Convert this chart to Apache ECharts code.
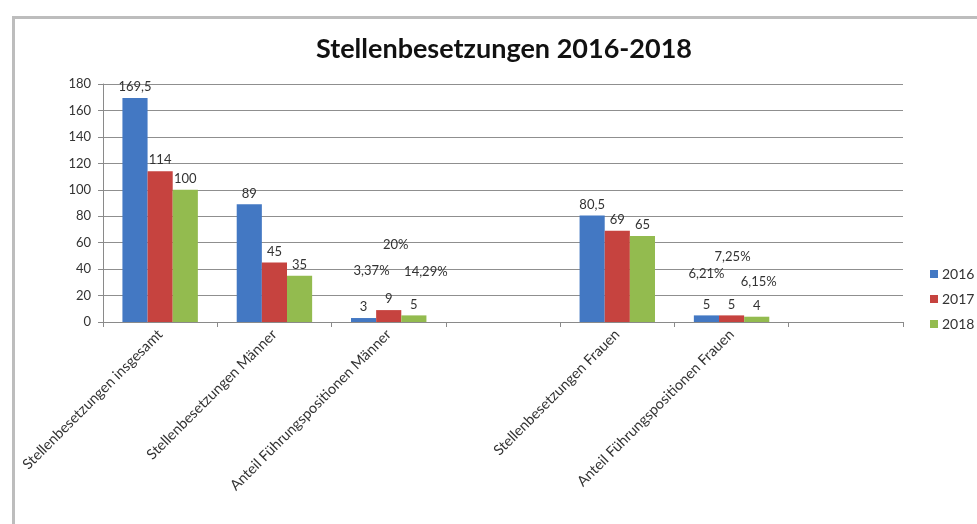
<!DOCTYPE html>
<html>
<head>
<meta charset="utf-8">
<script src="https://cdn.jsdelivr.net/npm/echarts@6/dist/echarts.min.js"></script>
<style>
  html, body { margin: 0; padding: 0; background: #fff; }
  #chart { width: 977px; height: 524px; }
</style>
</head>
<body>
<div id="chart"></div>
<script>
// Job placements by year, split into totals, men and women
const categories = [
  'Stellenbesetzungen insgesamt',
  'Stellenbesetzungen Männer',
  'Anteil Führungspositionen Männer',
  '',
  'Stellenbesetzungen Frauen',
  'Anteil Führungspositionen Frauen',
  ''
];
const years = ['2016', '2017', '2018'];
const values2016 = [169.5, 89, 3, null, 80.5, 5, null];
const values2017 = [114, 45, 9, null, 69, 5, null];
const values2018 = [100, 35, 5, null, 65, 4, null];
// share of leadership positions, shown above the leadership bars
const share2016 = [null, null, '3,37%', null, null, '6,21%', null];
const share2017 = [null, null, '20%', null, null, '7,25%', null];
const share2018 = [null, null, '14,29%', null, null, '6,15%', null];
const yTicks = { min: 0, max: 180, step: 20 };

// label placement for the share texts: [vertical gap, horizontal shift]
const shareLayout = [
  { 2: [58, 8], 5: [48, 0] },
  { 2: [94, 7], 5: [82, 1] },
  { 2: [52, 12], 5: [34, 2] }
];

const colors = ['#4378c3', '#c6433f', '#93bb4f'];
const textColor = '#333333';
const font = 'Lato, "Open Sans", sans-serif';
const labelSize = 13;

function fmt(v) {
  return String(v).replace('.', ',');
}

function buildData(values, shares, layout) {
  return values.map((v, i) => {
    if (v == null) return null;
    if (!shares[i]) return { value: v };
    const [gap, dx] = layout[i];
    return {
      value: v,
      label: {
        formatter: '{p|' + shares[i] + '}\n{v|' + fmt(v) + '}',
        rich: {
          p: { fontSize: labelSize, fontFamily: font, color: textColor, lineHeight: gap, padding: [0, 0, 0, dx * 2] },
          v: { fontSize: labelSize, fontFamily: font, color: textColor, lineHeight: 14 }
        }
      }
    };
  });
}

const seriesValues = [values2016, values2017, values2018];
const seriesShares = [share2016, share2017, share2018];

const chart = echarts.init(document.getElementById('chart'), null, { renderer: 'canvas' });

chart.setOption({
  animation: false,
  backgroundColor: '#ffffff',
  graphic: [{
    type: 'rect',
    left: 11, top: 15,
    shape: { width: 1000, height: 600 },
    style: { fill: 'none', stroke: '#bdbdbd', lineWidth: 3 },
    z: 0
  }],
  title: {
    text: 'Stellenbesetzungen 2016-2018',
    left: 311,
    top: 31,
    textStyle: { fontFamily: font, fontSize: 27, fontWeight: 'bold', color: '#111' }
  },
  legend: {
    orient: 'vertical',
    left: 925,
    top: 262,
    itemWidth: 8,
    itemHeight: 8,
    itemGap: 11,
    icon: 'rect',
    textStyle: { fontFamily: font, fontSize: 14, color: textColor, padding: [0, 0, 0, -1] },
    data: years
  },
  grid: { left: 103, right: 74, top: 84, bottom: 202, containLabel: false },
  xAxis: {
    type: 'category',
    data: categories,
    axisLine: { lineStyle: { color: '#8a8a8a', width: 1 } },
    axisTick: { show: true, length: 5, lineStyle: { color: '#8a8a8a' } },
    axisLabel: {
      rotate: 45,
      interval: 0,
      margin: 10,
      fontFamily: font,
      fontSize: 14.5,
      color: textColor
    },
    splitLine: { show: false }
  },
  yAxis: {
    type: 'value',
    min: yTicks.min,
    max: yTicks.max,
    interval: yTicks.step,
    axisLine: { show: true, lineStyle: { color: '#8a8a8a', width: 1 } },
    axisTick: { show: true, length: 5, lineStyle: { color: '#8a8a8a' } },
    axisLabel: { fontFamily: font, fontSize: 13, color: textColor, margin: 12 },
    splitLine: { lineStyle: { color: '#8f8f8f', width: 1 } }
  },
  series: years.map((y, k) => ({
    name: y,
    type: 'bar',
    barGap: '0%',
    barCategoryGap: '34%',
    itemStyle: { color: colors[k] },
    label: {
      show: true,
      position: 'top',
      distance: 4,
      fontFamily: font,
      fontSize: labelSize,
      color: textColor,
      lineHeight: 14,
      formatter: p => fmt(p.value)
    },
    data: buildData(seriesValues[k], seriesShares[k], shareLayout[k])
  }))
});
</script>
</body>
</html>
